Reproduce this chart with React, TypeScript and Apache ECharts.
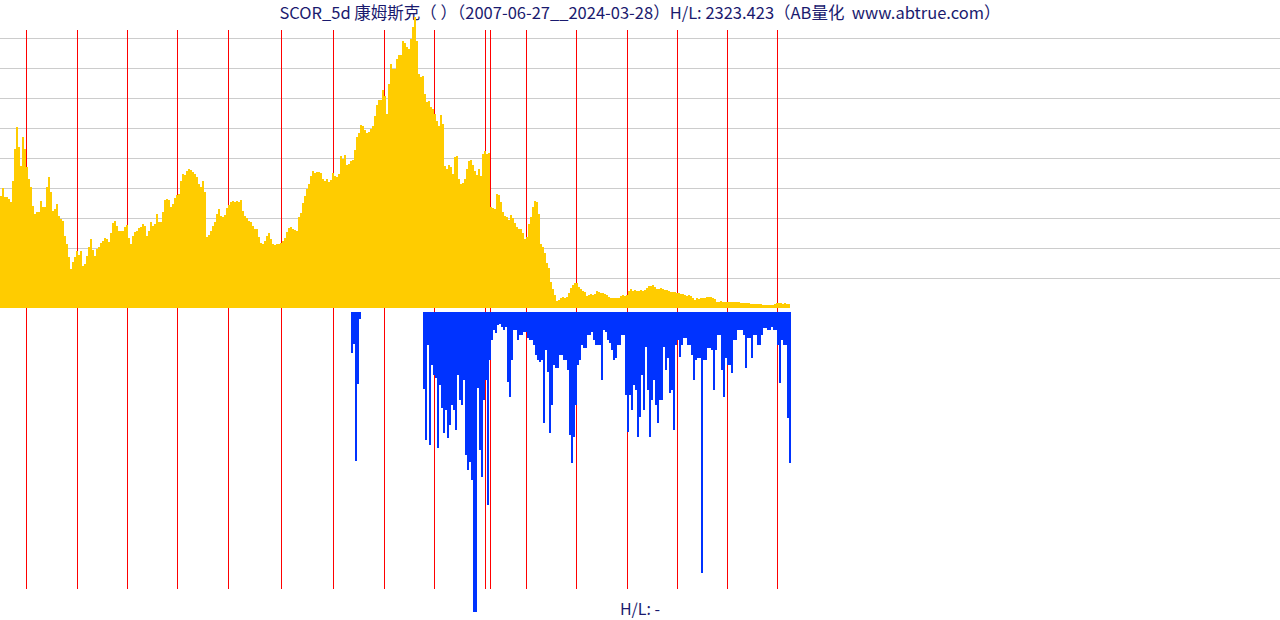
import React, { useEffect, useRef } from "react";
import * as echarts from "echarts";

const TITLE = "SCOR_5d 康姆斯克（ ）（2007-06-27__2024-03-28）H/L: 2323.423（AB量化  www.abtrue.com）";
const FOOTER = "H/L: -";

// one value per 2-week slot, starting at week 0
const STEP = 2;
const topValues = [
  112, 120, 111, 111, 109, 106, 127, 159, 181, 161,
  142, 171, 159, 141, 129, 121, 102, 94, 96, 96,
  107, 101, 101, 121, 131, 116, 97, 99, 104, 92,
  89, 87, 72, 64, 51, 39, 46, 51, 57, 53,
  57, 42, 44, 52, 61, 69, 58, 52, 59, 61,
  65, 67, 70, 69, 66, 75, 85, 87, 82, 77,
  77, 77, 81, 83, 70, 64, 72, 76, 77, 80,
  81, 84, 82, 72, 77, 86, 82, 84, 94, 86,
  86, 96, 108, 109, 108, 101, 104, 110, 113, 114,
  127, 134, 133, 137, 139, 138, 136, 134, 131, 124,
  121, 127, 116, 71, 73, 77, 82, 86, 94, 99,
  92, 91, 93, 100, 103, 106, 107, 106, 107, 106,
  108, 97, 92, 90, 87, 86, 82, 79, 79, 71,
  65, 64, 67, 72, 75, 69, 64, 63, 64, 64,
  65, 67, 70, 76, 80, 81, 79, 78, 77, 91,
  95, 105, 112, 119, 124, 132, 137, 135, 136, 136,
  135, 129, 127, 129, 126, 128, 135, 132, 131, 134,
  152, 149, 153, 143, 144, 147, 148, 158, 171, 175,
  183, 182, 178, 175, 176, 179, 182, 192, 203, 208,
  208, 218, 212, 194, 224, 244, 239, 239, 249, 253,
  253, 267, 265, 261, 259, 269, 281, 291, 267, 234,
  231, 232, 214, 206, 207, 201, 199, 194, 187, 182,
  193, 184, 142, 139, 143, 141, 134, 151, 152, 129,
  124, 125, 129, 139, 147, 148, 143, 137, 133, 139,
  132, 154, 157, 154, 155, 101, 100, 99, 114, 113,
  106, 96, 92, 91, 88, 93, 90, 85, 81, 79,
  79, 75, 69, 71, 84, 91, 101, 107, 106, 94,
  64, 61, 55, 45, 40, 26, 19, 13, 7, 8,
  10, 11, 10, 11, 15, 20, 23, 25, 25, 21,
  19, 17, 16, 12, 13, 14, 13, 14, 17, 16,
  15, 15, 14, 13, 11, 10, 10, 10, 10, 10,
  12, 13, 12, 13, 17, 19, 17, 18, 17, 17,
  18, 17, 18, 20, 22, 22, 23, 21, 19, 19,
  20, 19, 18, 18, 17, 16, 16, 16, 15, 15,
  14, 14, 13, 12, 13, 12, 10, 8, 10, 9,
  10, 10, 10, 11, 11, 11, 10, 9, 6, 6,
  7, 6, 6, 6, 6, 6, 6, 6, 6, 6,
  5, 5, 5, 5, 5, 4, 4, 4, 4, 4,
  4, 3, 3, 3, 3, 3, 3, 4, 5, 5,
  5, 4, 5, 4, 4,
];

const lowAStart = 351;
const lowA = [41, 32, 149, 72, 7];

const lowBStart = 423;
const lowB = [
  77, 128, 33, 133, 53, 63, 66, 136, 73, 96,
  121, 98, 126, 113, 93, 98, 118, 63, 88, 93,
  68, 143, 158, 150, 168, 300, 300, 76, 138, 165,
  88, 68, 193, 48, 28, 18, 21, 13, 12, 15,
  18, 15, 70, 85, 48, 18, 18, 28, 23, 23,
  20, 20, 26, 28, 28, 33, 43, 48, 50, 48,
  111, 38, 60, 121, 93, 53, 56, 56, 43, 43,
  48, 48, 58, 123, 151, 125, 93, 53, 48, 33,
  36, 36, 23, 23, 20, 28, 33, 33, 33, 68,
  18, 20, 28, 31, 38, 48, 46, 33, 33, 23,
  23, 83, 120, 83, 98, 73, 78, 125, 105, 63,
  98, 35, 78, 125, 88, 68, 93, 111, 88, 88,
  35, 58, 46, 81, 78, 118, 33, 28, 45, 33,
  26, 26, 33, 33, 43, 68, 48, 46, 46, 261,
  48, 48, 36, 36, 38, 78, 38, 23, 23, 58,
  85, 46, 53, 53, 61, 28, 28, 18, 18, 18,
  23, 56, 26, 26, 46, 23, 23, 33, 33, 23,
  16, 16, 18, 18, 15, 18, 18, 33, 71, 28,
  33, 33, 106, 151,
];

const markerWeeks = [26, 77, 127, 177, 228, 281, 333, 384, 434, 485, 490, 526, 576, 627, 677, 727, 777];

const AXIS_MAX = 1280;
const TOP_MAX = 300;
const TOP_INTERVAL = 30;
const LOW_MAX = 300;

const FONT = "'Microsoft YaHei', 'Noto Sans CJK SC', 'Noto Sans', sans-serif";
const TEXT_COLOR = "#1a1a6e";

export default function App() {
  const ref = useRef<HTMLDivElement>(null);
  useEffect(() => {
    if (!ref.current) return;
    const chart = echarts.init(ref.current, null, { renderer: "svg" });
    const toBars = (start: number, vals: number[]) =>
      vals.map((v, i) => [start + i * STEP + STEP / 2, v]);
    chart.setOption({
      animation: false,
      title: [
        {
          text: TITLE,
          left: "center",
          top: 4,
          padding: 0,
          textStyle: { fontFamily: FONT, fontSize: 16.5, fontWeight: "normal", color: TEXT_COLOR },
        },
        {
          text: FOOTER,
          left: "center",
          top: 600,
          padding: 0,
          textStyle: { fontFamily: FONT, fontSize: 16, fontWeight: "normal", color: TEXT_COLOR },
        },
      ],
      grid: [
        { left: 0, width: 1280, top: 8, height: 300 },
        { left: 0, width: 1280, top: 312, height: 300 },
        { left: 0, width: 1280, top: 30, height: 559 },
      ],
      xAxis: [0, 1, 2].map((g) => ({
        type: "value",
        gridIndex: g,
        min: 0,
        max: AXIS_MAX,
        show: false,
      })),
      yAxis: [
        {
          type: "value",
          gridIndex: 0,
          min: 0,
          max: TOP_MAX,
          interval: TOP_INTERVAL,
          axisLine: { show: false },
          axisTick: { show: false },
          axisLabel: { show: false },
          splitLine: {
            show: true,
            showMinLine: false,
            showMaxLine: false,
            lineStyle: { color: "#cccccc", width: 1 },
          },
        },
        { type: "value", gridIndex: 1, min: 0, max: LOW_MAX, inverse: true, show: false },
        { type: "value", gridIndex: 2, min: 0, max: 1, show: false },
      ],
      series: [
        {
          type: "line",
          xAxisIndex: 2,
          yAxisIndex: 2,
          data: [],
          silent: true,
          z: 1,
          markLine: {
            silent: true,
            symbol: "none",
            z: 1,
            animation: false,
            label: { show: false },
            lineStyle: { color: "#ff0000", width: 1, type: "solid", opacity: 1 },
            emphasis: { disabled: true },
            data: markerWeeks.map((w) => ({ xAxis: w + 0.5 })),
          },
        },
        {
          type: "bar",
          xAxisIndex: 0,
          yAxisIndex: 0,
          data: toBars(0, topValues),
          barWidth: STEP,
          itemStyle: { color: "#ffcc00" },
          z: 10,
          silent: true,
        },
        {
          type: "bar",
          xAxisIndex: 1,
          yAxisIndex: 1,
          data: [...toBars(lowAStart, lowA), ...toBars(lowBStart, lowB)],
          barWidth: STEP,
          itemStyle: { color: "#0033ff" },
          z: 10,
          silent: true,
        },
      ],
    });
    return () => chart.dispose();
  }, []);
  return (
    <div
      ref={ref}
      style={{ position: "fixed", left: 0, top: 0, width: 1280, height: 620, background: "#ffffff" }}
    />
  );
}
